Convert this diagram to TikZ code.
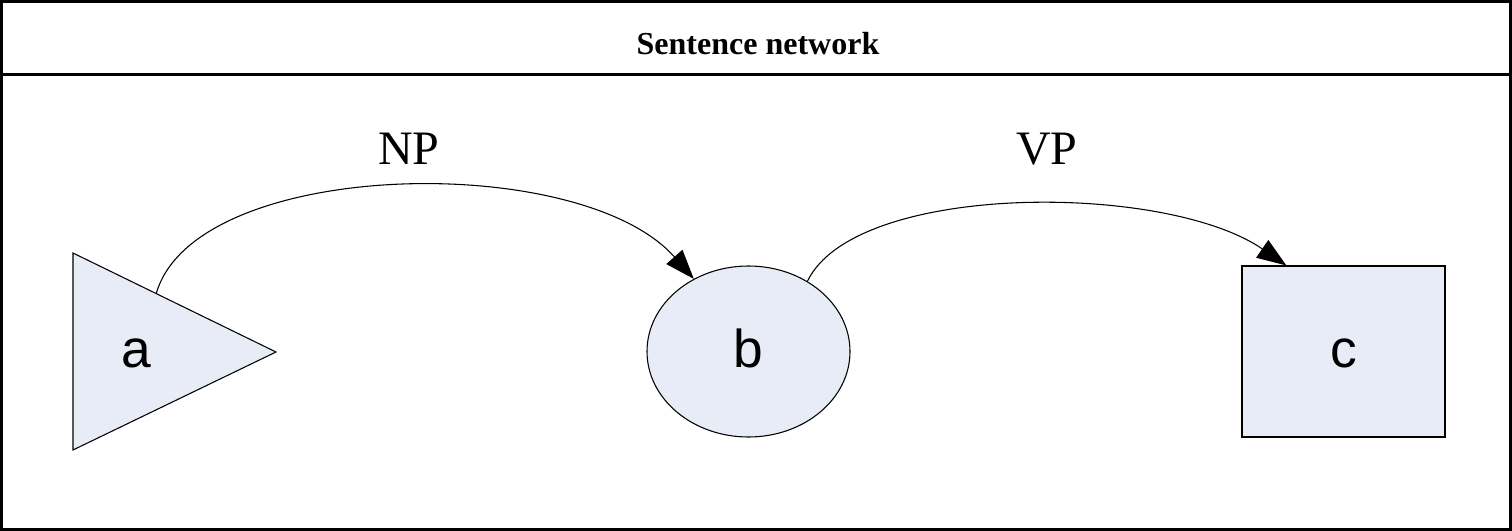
\documentclass[tikz,border=0pt]{standalone}
\usepackage{fontspec}
\setmainfont{Liberation Serif}
\newfontfamily\labelfont{Liberation Sans}
\usetikzlibrary{shapes.geometric,arrows.meta,calc}

\definecolor{nodefill}{RGB}{232,236,247}

\tikzset{
  statefill/.style={draw=black, fill=nodefill, line width=0.8pt},
  statetext/.style={font=\labelfont\fontsize{40}{40}\selectfont,
    text height=23.25pt, text depth=0pt, inner sep=0pt},
  arcline/.style={line width=0.8pt,
    -{Triangle[length=22pt,width=16pt]}},
  arclabel/.style={font=\fontsize{36}{36}\selectfont, anchor=base},
  frame/.style={line width=2.25pt}
}

\begin{document}
\begin{tikzpicture}[x=0.75pt, y=-0.75pt]
  \useasboundingbox (0,0) rectangle (1512,531);

  % outer frame and title bar
  \draw[frame] (1.5,1.5) rectangle (1510.5,529.5);
  \draw[frame] (0,75) -- (1512,75);
  \node[font=\bfseries\fontsize{24}{24}\selectfont, anchor=base] (title)
    at (758,55) {Sentence network};

  % start state: right-pointing triangle
  \coordinate (atop) at (73,253);
  \coordinate (abot) at (73,450);
  \coordinate (atip) at (276,352);
  \draw[statefill] (atop) -- (atip) -- (abot) -- cycle;
  \node[statetext] (a) at (136,351.5) {a};
  \coordinate (aout) at ($(atop)!0.41!(atip)$);

  % middle state
  \node[statefill, statetext, ellipse, minimum width=152.25pt,
        minimum height=128.25pt] (b) at (748.5,351.5) {b};

  % final state
  \node[statefill, statetext, rectangle, minimum width=152.25pt,
        minimum height=128.25pt] (c) at (1343.5,351.5) {c};
  \coordinate (cin) at ($(c.north west)!0.22!(c.north east)$);

  % transitions
  \draw[arcline] (aout) .. controls (195,158) and (580,150) .. (b.127);
  \draw[arcline] (b.50) .. controls (855,182) and (1165,182) .. (cin);

  \node[arclabel] (np) at (409,165) {NP};
  \node[arclabel] (vp) at (1047,165) {VP};
\end{tikzpicture}
\end{document}
